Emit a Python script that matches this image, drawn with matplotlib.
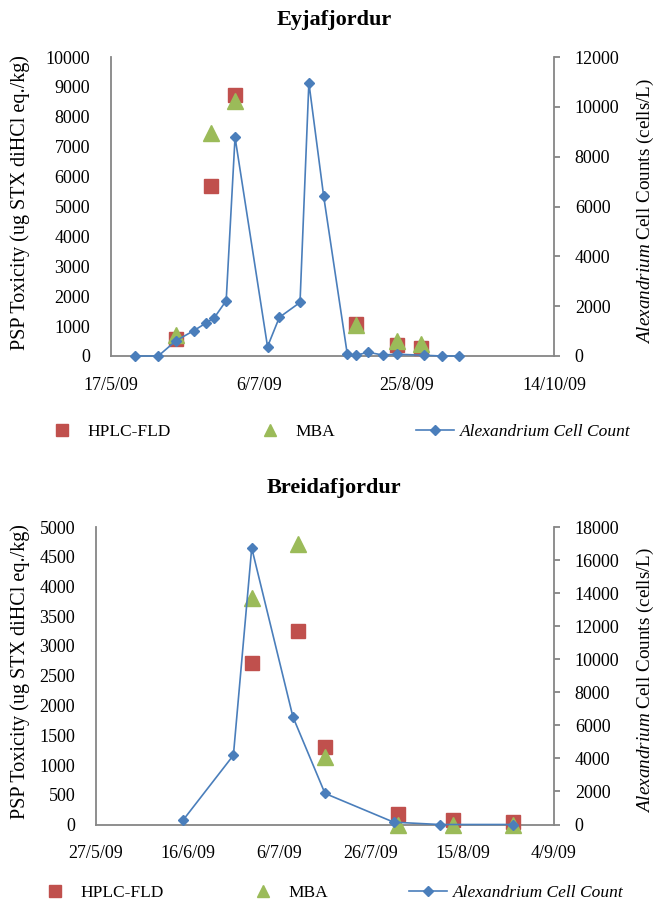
import matplotlib
matplotlib.use("Agg")
import matplotlib.pyplot as plt
import matplotlib.dates as mdates
from matplotlib.lines import Line2D
from matplotlib.ticker import FuncFormatter
import pandas as pd

# ---------------- data ----------------
# Eyjafjordur
cell_dates_E = ["2009-05-25", "2009-06-02", "2009-06-08", "2009-06-14", "2009-06-18",
                "2009-06-21", "2009-06-25", "2009-06-28", "2009-07-09", "2009-07-13",
                "2009-07-20", "2009-07-23", "2009-07-28", "2009-08-05", "2009-08-08",
                "2009-08-12", "2009-08-17", "2009-08-22", "2009-08-31", "2009-09-06",
                "2009-09-12"]
cell_E = [0, 0, 614, 1015, 1310, 1540, 2220, 8780, 375, 1550,
          2150, 10970, 6420, 80, 30, 150, 40, 70, 30, 0, 0]
tox_dates_E = ["2009-06-08", "2009-06-20", "2009-06-28", "2009-08-08", "2009-08-22", "2009-08-30"]
hplc_E = [570, 5700, 8730, 1070, 360, 270]
mba_E = [700, 7470, 8520, 1050, 510, 410]
xticks_E = ["2009-05-17", "2009-07-06", "2009-08-25", "2009-10-14"]
yticks_left_E = [0, 1000, 2000, 3000, 4000, 5000, 6000, 7000, 8000, 9000, 10000]
yticks_right_E = [0, 2000, 4000, 6000, 8000, 10000, 12000]

# Breidafjordur
cell_dates_B = ["2009-06-15", "2009-06-26", "2009-06-30", "2009-07-09", "2009-07-16",
                "2009-07-31", "2009-08-10", "2009-08-26"]
cell_B = [260, 4190, 16730, 6510, 1880, 140, 0, 0]
tox_dates_B = ["2009-06-30", "2009-07-10", "2009-07-16", "2009-08-01", "2009-08-13", "2009-08-26"]
hplc_B = [2720, 3260, 1300, 175, 70, 45]
mba_B = [3800, 4710, 1130, 0, 0, 0]
xticks_B = ["2009-05-27", "2009-06-16", "2009-07-06", "2009-07-26", "2009-08-15", "2009-09-04"]
yticks_left_B = [0, 500, 1000, 1500, 2000, 2500, 3000, 3500, 4000, 4500, 5000]
yticks_right_B = [0, 2000, 4000, 6000, 8000, 10000, 12000, 14000, 16000, 18000]

titles = ["Eyjafjordur", "Breidafjordur"]
legend_labels = ["HPLC-FLD", "MBA", "Alexandrium Cell Count"]
left_label = "PSP Toxicity (ug STX diHCl eq./kg)"
right_label = r"$\mathit{Alexandrium}$ Cell Counts (cells/L)"

# ---------------- style ----------------
plt.rcParams['font.family'] = ['Liberation Serif', 'DejaVu Serif']
plt.rcParams['mathtext.fontset'] = 'custom'
plt.rcParams['mathtext.rm'] = 'Liberation Serif'
plt.rcParams['mathtext.it'] = 'Liberation Serif:italic'
FS_TICK = 13
FS_LAB = 14.5
FS_RLAB = 13.8
FS_LEG = 12.5
RED = "#C0504D"
GREEN = "#9BBB59"
BLUE = "#4A7EBB"
GRAY = "#868686"

W, H = 657, 906
fig = plt.figure(figsize=(W / 100, H / 100), dpi=100)


def px_rect(l, t, r, b):
    return [l / W, 1 - b / H, (r - l) / W, (b - t) / H]


def date_fmt(x, pos=None):
    d = mdates.num2date(x)
    return f"{d.day}/{d.month}/{d:%y}"


def make_panel(rect, cd, cv, td, hv, mv, xt, ytl, ytr, title, title_y, legend_y, legend_x):
    ax = fig.add_axes(px_rect(*rect))
    ax2 = ax.twinx()
    cd = pd.to_datetime(cd)
    td = pd.to_datetime(td)
    xt = pd.to_datetime(xt)

    ax.plot(td, hv, linestyle='none', marker='s', ms=10.5, color=RED, clip_on=False, zorder=3)
    ax.plot(td, mv, linestyle='none', marker='^', ms=11, color=GREEN, clip_on=False, zorder=4)
    ax2.plot(cd, cv, color=BLUE, lw=1.2, marker='D', ms=5.4, clip_on=False, zorder=5)

    ax.set_xlim(xt[0], xt[-1])
    ax.set_xticks(xt)
    ax.xaxis.set_major_formatter(FuncFormatter(date_fmt))
    ax.set_ylim(ytl[0], ytl[-1])
    ax.set_yticks(ytl)
    ax2.set_ylim(ytr[0], ytr[-1])
    ax2.set_yticks(ytr)

    for a in (ax, ax2):
        a.spines['top'].set_visible(False)
        for s in ('left', 'right', 'bottom'):
            a.spines[s].set_color(GRAY)
            a.spines[s].set_linewidth(1.3)
    ax.spines['right'].set_visible(False)
    ax2.spines['left'].set_visible(False)
    ax2.spines['bottom'].set_visible(False)

    ax.tick_params(axis='y', length=0, pad=15, labelsize=FS_TICK)
    ax.tick_params(axis='x', length=0, pad=15, labelsize=FS_TICK)
    ax2.tick_params(axis='y', length=4, width=1.3, color=GRAY, direction='out', pad=11,
                    labelsize=FS_TICK)

    l, t, r, b = rect
    fig.text(334 / W, 1 - title_y / H, title, ha='center', va='center',
             fontsize=16, fontweight='bold')
    fig.text(20 / W, 1 - ((t + b) / 2 - 4) / H, left_label, rotation=90, ha='center',
             va='center', fontsize=FS_LAB)
    fig.text(645 / W, 1 - ((t + b) / 2 + 4) / H, right_label, rotation=90, ha='center',
             va='center', fontsize=FS_RLAB)

    handles = [Line2D([], [], linestyle='none', marker='s', ms=8.5, color=RED),
               Line2D([], [], linestyle='none', marker='^', ms=9, color=GREEN),
               Line2D([], [], color=BLUE, lw=1.2, marker='D', ms=5.4)]
    leg = fig.legend(handles, legend_labels, loc='center left',
                     bbox_to_anchor=(legend_x / W, 1 - legend_y / H), ncol=3,
                     frameon=False, fontsize=FS_LEG, handlelength=2.2, handletextpad=0.35,
                     columnspacing=4.65, borderpad=0, borderaxespad=0)
    leg.get_texts()[2].set_fontstyle('italic')
    return ax, ax2


make_panel((111, 57, 554, 356), cell_dates_E, cell_E, tox_dates_E, hplc_E, mba_E,
           xticks_E, yticks_left_E, yticks_right_E, titles[0], 20, 432, 43)
make_panel((96, 527, 554, 824.5), cell_dates_B, cell_B, tox_dates_B, hplc_B, mba_B,
           xticks_B, yticks_left_B, yticks_right_B, titles[1], 488, 893, 36)

fig.savefig("out.png", dpi=100)
